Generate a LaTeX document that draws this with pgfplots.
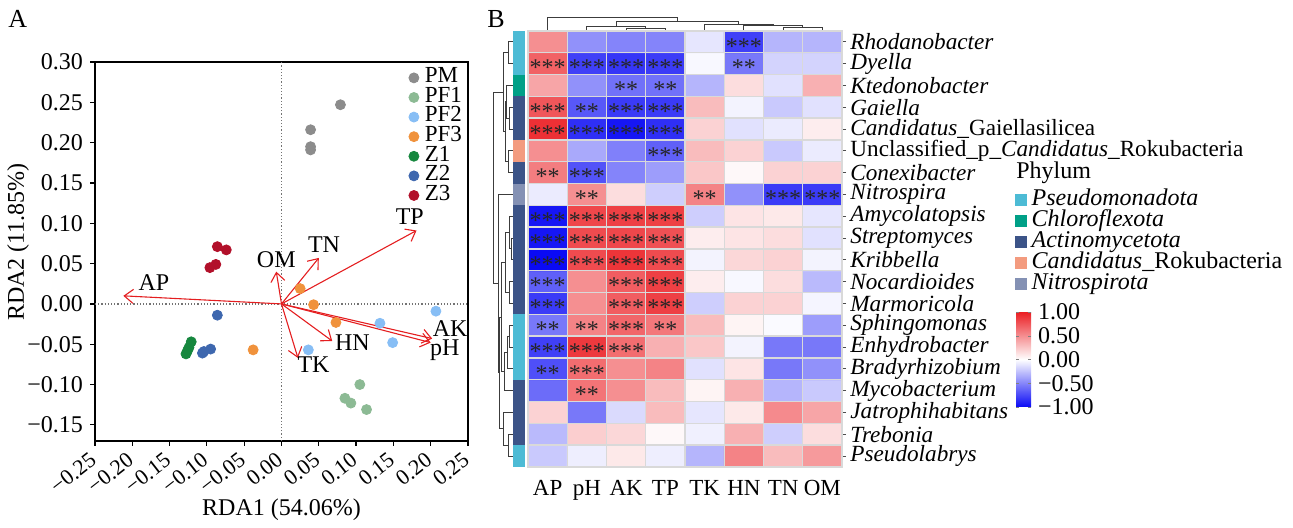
\documentclass[border=0pt]{standalone}
\usepackage{fontspec}
\setmainfont{Liberation Serif}
\usepackage{pgfplots}
\pgfplotsset{compat=1.18}
\usetikzlibrary{arrows.meta}
\newcommand{\fs}[1]{\fontsize{#1}{#1}\selectfont}
\definecolor{cPM}{RGB}{140,140,140}
\definecolor{cPFa}{RGB}{140,186,148}
\definecolor{cPFb}{RGB}{135,190,245}
\definecolor{cPFc}{RGB}{240,146,60}
\definecolor{cZa}{RGB}{22,135,62}
\definecolor{cZb}{RGB}{62,103,174}
\definecolor{cZc}{RGB}{178,16,42}
\definecolor{arrred}{RGB}{228,30,32}
\definecolor{phPse}{RGB}{77,187,213}
\definecolor{phChl}{RGB}{0,160,135}
\definecolor{phAct}{RGB}{60,84,136}
\definecolor{phRok}{RGB}{243,155,127}
\definecolor{phNit}{RGB}{132,145,180}
\definecolor{dendro}{RGB}{60,60,60}
\begin{document}
\begin{tikzpicture}
\useasboundingbox (0,0) rectangle (646.5pt,264pt);
\node[anchor=north west, inner sep=0pt, font=\fs{13}] at (4pt,259pt) {A};
\node[anchor=north west, inner sep=0pt, font=\fs{13}] at (243.5pt,259pt) {B};

% ---------------- Panel A: RDA ----------------
\begin{axis}[at={(47.5pt,43.5pt)}, anchor=south west, width=186.5pt, height=189.5pt, scale only axis,
 xmin=-0.25, xmax=0.25, ymin=-0.17, ymax=0.30, clip=false,
 xtick={-0.25,-0.2,-0.15,-0.1,-0.05,0,0.05,0.1,0.15,0.2,0.25},
 xticklabels={−0.25,−0.20,−0.15,−0.10,−0.05,0.00,0.05,0.10,0.15,0.20,0.25},
 ytick={-0.15,-0.1,-0.05,0,0.05,0.1,0.15,0.2,0.25,0.3},
 yticklabels={−0.15,−0.10,−0.05,0.00,0.05,0.10,0.15,0.20,0.25,0.30},
 tick align=outside, tick pos=left, major tick length=2.5pt,
 tick style={black, line width=0.6pt},
 axis line style={line width=0.8pt},
 xticklabel shift=5pt,
 xticklabel style={rotate=38, anchor=east, font=\fs{11}, inner sep=1pt},
 yticklabel style={font=\fs{12}},
 xlabel={RDA1 (54.06\%)}, ylabel={RDA2 (11.85\%)},
 label style={font=\fs{12}},
 xlabel style={at={([yshift=-34.5pt]axis description cs:0.5,0)}, anchor=center},
 ylabel style={at={([xshift=-38.5pt]axis description cs:0,0.525)}, anchor=center},
 legend style={at={(axis description cs:0.985,0.985)}, anchor=north east, draw=none, fill=none, inner sep=0pt,
   font=\fs{11.5}, nodes={inner sep=0pt, text height=7.3pt, text depth=2.5pt}, column sep=3pt},
 legend cell align=left,
 legend image code/.code={\draw[#1] plot coordinates {(2pt,0pt)};},
 arr/.style={forget plot, color=arrred, line width=0.55pt, -{Straight Barb[length=4.5pt, width=7pt, line width=0.55pt]}},
]
\addplot[forget plot, black!55, densely dotted, line width=0.6pt] coordinates {(-0.25,0) (0.25,0)};
\addplot[forget plot, black!55, densely dotted, line width=0.6pt] coordinates {(0,-0.17) (0,0.30)};
\addplot[arr] coordinates {(0,0) (-0.212,0.010)};
\addplot[arr] coordinates {(0,0) (-0.007,0.040)};
\addplot[arr] coordinates {(0,0) (0.050,0.057)};
\addplot[arr] coordinates {(0,0) (0.181,0.091)};
\addplot[arr] coordinates {(0,0) (0.202,-0.043)};
\addplot[arr] coordinates {(0,0) (0.200,-0.048)};
\addplot[arr] coordinates {(0,0) (0.068,-0.046)};
\addplot[arr] coordinates {(0,0) (0.022,-0.067)};
\addplot[only marks, mark=*, mark size=2.5pt, color=cPM] coordinates {(0.079,0.247) (0.039,0.216) (0.039,0.195) (0.039,0.191)};
\addlegendentry{PM}
\addplot[only marks, mark=*, mark size=2.5pt, color=cPFa] coordinates {(0.105,-0.100) (0.085,-0.117) (0.093,-0.123) (0.114,-0.131)};
\addlegendentry{PF1}
\addplot[only marks, mark=*, mark size=2.5pt, color=cPFb] coordinates {(0.207,-0.009) (0.132,-0.024) (0.149,-0.048) (0.036,-0.057)};
\addlegendentry{PF2}
\addplot[only marks, mark=*, mark size=2.5pt, color=cPFc] coordinates {(0.025,0.019) (0.043,-0.001) (0.073,-0.023) (-0.038,-0.057)};
\addlegendentry{PF3}
\addplot[only marks, mark=*, mark size=2.5pt, color=cZa] coordinates {(-0.121,-0.047) (-0.124,-0.054) (-0.126,-0.058) (-0.128,-0.062)};
\addlegendentry{Z1}
\addplot[only marks, mark=*, mark size=2.5pt, color=cZb] coordinates {(-0.086,-0.014) (-0.095,-0.056) (-0.106,-0.061) (-0.104,-0.059)};
\addlegendentry{Z2}
\addplot[only marks, mark=*, mark size=2.5pt, color=cZc] coordinates {(-0.086,0.071) (-0.074,0.067) (-0.088,0.049) (-0.096,0.045)};
\addlegendentry{Z3}
\addplot[forget plot, only marks, mark=none, nodes near coords, point meta=explicit symbolic,
  every node near coord/.style={anchor=center, font=\fs{12}, inner sep=0pt, text=black}]
  table[meta=lab] {
x y lab
-0.171 0.026 AP
-0.007 0.055 OM
0.057 0.0736 TN
0.172 0.108 TP
0.226 -0.030 AK
0.219 -0.057 pH
0.095 -0.048 HN
0.043 -0.075 TK
};
\end{axis}

% ---------------- Panel B: heatmap ----------------
\begin{axis}[at={(264pt,30.5pt)}, anchor=south west, width=157pt, height=218pt, scale only axis,
 xmin=-0.5, xmax=7.5, ymin=-0.5, ymax=19.5, clip=false, axis on top,
 xtick={0,...,7}, xticklabels={AP,pH,AK,TP,TK,HN,TN,OM},
 ytick={0,...,19},
 yticklabels={{\textit{Pseudolabrys}},{\textit{Trebonia}},{\textit{Jatrophihabitans}},{\textit{Mycobacterium}},{\textit{Bradyrhizobium}},{\textit{Enhydrobacter}},{\textit{Sphingomonas}},{\textit{Marmoricola}},{\textit{Nocardioides}},{\textit{Kribbella}},{\textit{Streptomyces}},{\textit{Amycolatopsis}},{\textit{Nitrospira}},{\textit{Conexibacter}},{Unclassified\_p\_\textit{Candidatus}\_Rokubacteria},{\textit{Candidatus}\_Gaiellasilicea},{\textit{Gaiella}},{\textit{Ktedonobacter}},{\textit{Dyella}},{\textit{Rhodanobacter}}},
 yticklabel pos=right, ytick pos=right,
 xtick style={draw=none}, ytick style={black!70, line width=0.4pt},
 tick align=outside, major tick length=2pt,
 minor xtick={-0.5,0.5,...,7.5}, minor ytick={-0.5,0.5,...,19.5}, minor tick length=0pt,
 xminorgrids, yminorgrids, minor grid style={black!15, line width=0.7pt},
 axis line style={black!15, line width=0.7pt},
 xticklabel style={font=\fs{11.5}, yshift=-1pt},
 yticklabel style={font=\fs{11.6}, inner sep=2pt},
 colormap={bwr}{rgb255=(10,10,245) rgb255=(255,255,255) rgb255=(235,30,35)},
 point meta min=-1, point meta max=1,
 colorbar,
 colorbar style={at={(parent axis.south east)}, anchor=south west, xshift=78.5pt, yshift=30pt,
   scale only axis, width=7.5pt, height=47.5pt,
   ytick={-1,-0.5,0,0.5,1}, yticklabels={−1.00,−0.50,0.00,0.50,1.00},
   yticklabel style={font=\fs{12}},
   axis line style={draw=none}, major tick length=1.5pt, tick align=inside, tick style={black!50}},
 legend style={at={(axis description cs:1.551,0.6365)}, anchor=north west, draw=none, fill=none, inner sep=0pt,
   font=\fs{12}, nodes={inner sep=0pt, text height=8pt, text depth=2.5pt}, column sep=2.5pt},
 legend cell align=left,
 legend image code/.code={\fill[#1] (0pt,-2.6pt) rectangle (5.6pt,3pt);},
 dg/.style={forget plot, dendro, line width=0.5pt},
]
\addplot[forget plot, matrix plot*, point meta=explicit, mesh/cols=8] table[meta=c, row sep=\\] {
x y c\\
0 0 -0.22\\ 1 0 -0.07\\ 2 0 0.10\\ 3 0 -0.07\\ 4 0 -0.30\\ 5 0 0.55\\ 6 0 0.30\\ 7 0 0.45\\
0 1 -0.28\\ 1 1 0.22\\ 2 1 0.18\\ 3 1 0.03\\ 4 1 -0.06\\ 5 1 0.35\\ 6 1 -0.20\\ 7 1 0.15\\
0 2 0.20\\ 1 2 -0.55\\ 2 2 -0.15\\ 3 2 0.30\\ 4 2 -0.10\\ 5 2 0.10\\ 6 2 0.52\\ 7 2 0.40\\
0 3 -0.60\\ 1 3 0.62\\ 2 3 0.50\\ 3 3 0.30\\ 4 3 0.05\\ 5 3 0.35\\ 6 3 -0.30\\ 7 3 -0.22\\
0 4 -0.72\\ 1 4 0.65\\ 2 4 0.50\\ 3 4 0.55\\ 4 4 -0.12\\ 5 4 0.12\\ 6 4 -0.55\\ 7 4 -0.45\\
0 5 -0.78\\ 1 5 0.88\\ 2 5 0.65\\ 3 5 0.35\\ 4 5 0.25\\ 5 5 -0.05\\ 6 5 -0.55\\ 7 5 -0.55\\
0 6 -0.55\\ 1 6 0.55\\ 2 6 0.68\\ 3 6 0.60\\ 4 6 0.30\\ 5 6 0.05\\ 6 6 -0.02\\ 7 6 -0.40\\
0 7 -0.80\\ 1 7 0.50\\ 2 7 0.72\\ 3 7 0.85\\ 4 7 -0.20\\ 5 7 0.20\\ 6 7 0.20\\ 7 7 -0.04\\
0 8 -0.65\\ 1 8 0.50\\ 2 8 0.72\\ 3 8 0.85\\ 4 8 0.08\\ 5 8 -0.03\\ 6 8 0.15\\ 7 8 -0.28\\
0 9 -1.00\\ 1 9 0.80\\ 2 9 0.90\\ 3 9 0.80\\ 4 9 -0.05\\ 5 9 0.18\\ 6 9 0.20\\ 7 9 -0.05\\
0 10 -0.95\\ 1 10 0.80\\ 2 10 0.82\\ 3 10 0.78\\ 4 10 0.08\\ 5 10 0.12\\ 6 10 0.15\\ 7 10 -0.12\\
0 11 -0.95\\ 1 11 0.82\\ 2 11 0.85\\ 3 11 0.85\\ 4 11 -0.20\\ 5 11 0.12\\ 6 11 0.10\\ 7 11 -0.10\\
0 12 -0.08\\ 1 12 0.50\\ 2 12 0.15\\ 3 12 -0.20\\ 4 12 0.55\\ 5 12 -0.45\\ 6 12 -0.80\\ 7 12 -0.80\\
0 13 0.58\\ 1 13 -0.70\\ 2 13 -0.50\\ 3 13 -0.40\\ 4 13 0.25\\ 5 13 0.03\\ 6 13 0.20\\ 7 13 0.20\\
0 14 0.50\\ 1 14 -0.35\\ 2 14 -0.52\\ 3 14 -0.65\\ 4 14 0.30\\ 5 14 0.20\\ 6 14 -0.22\\ 7 14 -0.08\\
0 15 0.92\\ 1 15 -0.85\\ 2 15 -0.95\\ 3 15 -0.85\\ 4 15 0.20\\ 5 15 -0.12\\ 6 15 -0.08\\ 7 15 0.08\\
0 16 0.75\\ 1 16 -0.68\\ 2 16 -0.80\\ 3 16 -0.80\\ 4 16 0.30\\ 5 16 -0.05\\ 6 16 -0.22\\ 7 16 -0.12\\
0 17 0.40\\ 1 17 -0.45\\ 2 17 -0.58\\ 3 17 -0.58\\ 4 17 -0.30\\ 5 17 0.15\\ 6 17 -0.12\\ 7 17 0.35\\
0 18 0.70\\ 1 18 -0.78\\ 2 18 -0.82\\ 3 18 -0.80\\ 4 18 -0.03\\ 5 18 -0.55\\ 6 18 -0.18\\ 7 18 -0.18\\
0 19 0.50\\ 1 19 -0.45\\ 2 19 -0.50\\ 3 19 -0.50\\ 4 19 -0.10\\ 5 19 -0.78\\ 6 19 -0.30\\ 7 19 -0.30\\
};
\addplot[forget plot, only marks, mark=none, nodes near coords, point meta=explicit symbolic,
  every node near coord/.style={anchor=center, font=\fs{12}, inner sep=0pt, text=black!85, yshift=-2.2pt}]
  table[meta=s, row sep=\\] {
x y s\\
5 19 ***\\
0 18 ***\\ 1 18 ***\\ 2 18 ***\\ 3 18 ***\\ 5 18 **\\
2 17 **\\ 3 17 **\\
0 16 ***\\ 1 16 **\\ 2 16 ***\\ 3 16 ***\\
0 15 ***\\ 1 15 ***\\ 2 15 ***\\ 3 15 ***\\
3 14 ***\\
0 13 **\\ 1 13 ***\\
1 12 **\\ 4 12 **\\ 6 12 ***\\ 7 12 ***\\
0 11 ***\\ 1 11 ***\\ 2 11 ***\\ 3 11 ***\\
0 10 ***\\ 1 10 ***\\ 2 10 ***\\ 3 10 ***\\
0 9 ***\\ 1 9 ***\\ 2 9 ***\\ 3 9 ***\\
0 8 ***\\ 2 8 ***\\ 3 8 ***\\
0 7 ***\\ 2 7 ***\\ 3 7 ***\\
0 6 **\\ 1 6 **\\ 2 6 ***\\ 3 6 **\\
0 5 ***\\ 1 5 ***\\ 2 5 ***\\
0 4 **\\ 1 4 ***\\
1 3 **\\
};
% phylum bar
\addplot[fill=phPse, draw=none] coordinates {(-0.88,17.5) (-0.576,17.5) (-0.576,19.5) (-0.88,19.5)} -- cycle;
\addlegendentry{\textit{Pseudomonadota}}
\addplot[fill=phChl, draw=none] coordinates {(-0.88,16.5) (-0.576,16.5) (-0.576,17.5) (-0.88,17.5)} -- cycle;
\addlegendentry{\textit{Chloroflexota}}
\addplot[fill=phAct, draw=none] coordinates {(-0.88,14.5) (-0.576,14.5) (-0.576,16.5) (-0.88,16.5)} -- cycle;
\addlegendentry{\textit{Actinomycetota}}
\addplot[fill=phRok, draw=none] coordinates {(-0.88,13.5) (-0.576,13.5) (-0.576,14.5) (-0.88,14.5)} -- cycle;
\addlegendentry{\textit{Candidatus}\_Rokubacteria}
\addplot[forget plot, fill=phAct, draw=none] coordinates {(-0.88,12.5) (-0.576,12.5) (-0.576,13.5) (-0.88,13.5)} -- cycle;
\addplot[fill=phNit, draw=none] coordinates {(-0.88,11.5) (-0.576,11.5) (-0.576,12.5) (-0.88,12.5)} -- cycle;
\addlegendentry{\textit{Nitrospirota}}
\addplot[forget plot, fill=phAct, draw=none] coordinates {(-0.88,6.5) (-0.576,6.5) (-0.576,11.5) (-0.88,11.5)} -- cycle;
\addplot[forget plot, fill=phPse, draw=none] coordinates {(-0.88,3.5) (-0.576,3.5) (-0.576,6.5) (-0.88,6.5)} -- cycle;
\addplot[forget plot, fill=phAct, draw=none] coordinates {(-0.88,0.5) (-0.576,0.5) (-0.576,3.5) (-0.88,3.5)} -- cycle;
\addplot[forget plot, fill=phPse, draw=none] coordinates {(-0.88,-0.5) (-0.576,-0.5) (-0.576,0.5) (-0.88,0.5)} -- cycle;
% top dendrogram
\addplot[dg] coordinates {(2,19.5) (2,19.62) (3,19.62) (3,19.5)};
\addplot[dg] coordinates {(1,19.5) (1,19.70) (2.5,19.70) (2.5,19.62)};
\addplot[dg] coordinates {(6,19.5) (6,19.67) (7,19.67) (7,19.5)};
\addplot[dg] coordinates {(5,19.5) (5,19.73) (6.5,19.73) (6.5,19.67)};
\addplot[dg] coordinates {(4,19.5) (4,19.81) (5.75,19.81) (5.75,19.73)};
\addplot[dg] coordinates {(1.75,19.70) (1.75,19.93) (4.875,19.93) (4.875,19.81)};
\addplot[dg] coordinates {(0,19.5) (0,20.13) (3.3125,20.13) (3.3125,19.93)};
% left dendrogram
\addplot[dg] coordinates {(-0.894,19) (-1.009,19) (-1.009,18) (-0.894,18)};
\addplot[dg] coordinates {(-0.894,16) (-0.983,16) (-0.983,15) (-0.894,15)};
\addplot[dg] coordinates {(-0.894,17) (-1.060,17) (-1.060,15.5) (-0.983,15.5)};
\addplot[dg] coordinates {(-0.894,14) (-1.009,14) (-1.009,13) (-0.894,13)};
\addplot[dg] coordinates {(-1.060,16.25) (-1.085,16.25) (-1.085,13.5) (-1.009,13.5)};
\addplot[dg] coordinates {(-1.009,18.5) (-1.136,18.5) (-1.136,14.875) (-1.085,14.875)};
\addplot[dg] coordinates {(-0.894,10) (-0.933,10) (-0.933,9) (-0.894,9)};
\addplot[dg] coordinates {(-0.894,11) (-0.983,11) (-0.983,9.5) (-0.933,9.5)};
\addplot[dg] coordinates {(-0.894,8) (-0.983,8) (-0.983,7) (-0.894,7)};
\addplot[dg] coordinates {(-0.983,10.25) (-1.085,10.25) (-1.085,7.5) (-0.983,7.5)};
\addplot[dg] coordinates {(-0.894,6) (-0.983,6) (-0.983,5) (-0.894,5)};
\addplot[dg] coordinates {(-0.983,5.5) (-1.034,5.5) (-1.034,4) (-0.894,4)};
\addplot[dg] coordinates {(-1.034,4.75) (-1.111,4.75) (-1.111,3) (-0.894,3)};
\addplot[dg] coordinates {(-1.085,8.875) (-1.187,8.875) (-1.187,3.875) (-1.111,3.875)};
\addplot[dg] coordinates {(-0.894,1) (-1.009,1) (-1.009,0) (-0.894,0)};
\addplot[dg] coordinates {(-0.894,2) (-1.136,2) (-1.136,0.5) (-1.009,0.5)};
\addplot[dg] coordinates {(-1.187,6.375) (-1.225,6.375) (-1.225,1.25) (-1.136,1.25)};
\addplot[dg] coordinates {(-0.894,12) (-1.251,12) (-1.251,3.8125) (-1.225,3.8125)};
\addplot[dg] coordinates {(-1.136,16.6875) (-1.391,16.6875) (-1.391,7.906) (-1.251,7.906)};
\node[anchor=west, font=\fs{12}, inner sep=0pt] at (axis description cs:1.554,0.674) {Phylum};
\end{axis}
\end{tikzpicture}
\end{document}
